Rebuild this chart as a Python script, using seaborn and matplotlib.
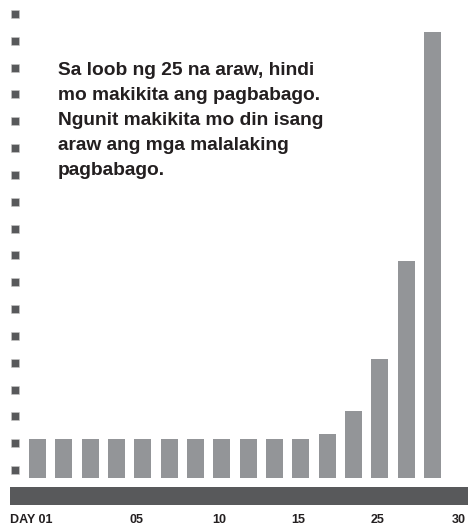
import numpy as np
import pandas as pd
import matplotlib
matplotlib.use("Agg")
import matplotlib.pyplot as plt
from matplotlib.patches import Rectangle
import seaborn as sns

# ---- data ----
bar_ids = [str(i) for i in range(1, 17)]
bar_values = [1.0, 1.0, 1.0, 1.0, 1.0, 1.0, 1.0, 1.0, 1.0, 1.0, 1.0,
              1.12, 1.70, 3.01, 5.49, 11.27]
tick_positions = [-1.044, 3.77, 6.9, 9.9, 12.9, 16.0]
tick_labels = ["DAY 01", "05", "10", "15", "25", "30"]
message_lines = [
    "Sa loob ng 25 na araw, hindi",
    "mo makikita ang pagbabago.",
    "Ngunit makikita mo din isang",
    "araw ang mga malalaking",
    "pagbabago.",
]

BAR_COLOR = "#939598"
DARK = "#58595b"
TEXT = "#231f20"

sns.set_theme(style="white")
plt.rcParams["font.family"] = ["Liberation Sans", "DejaVu Sans"]

W, H = 468, 527
fig = plt.figure(figsize=(W / 100, H / 100), dpi=100)
fig.patch.set_facecolor("white")

bottom_px = 478.3
ax = fig.add_axes([10 / W, (H - bottom_px) / H, 458 / W, bottom_px / H])
df = pd.DataFrame({"day": bar_ids, "value": bar_values})
sns.barplot(data=df, x="day", y="value", color=BAR_COLOR, saturation=1,
            width=0.646, ax=ax, edgecolor="none")
ax.set_xlim(-1.044, 16.35)
ax.set_ylim(0, bottom_px / 39.6)
ax.set_xlabel("")
ax.set_ylabel("")
ax.set_yticks([])
ax.set_xticks(tick_positions)
ax.set_xticklabels(tick_labels, fontsize=9, fontweight="bold", color=TEXT)
ax.get_xticklabels()[0].set_horizontalalignment("left")
ax.tick_params(axis="x", length=0, pad=25.5)
for s in ax.spines.values():
    s.set_visible(False)
ax.set_facecolor("none")

# dark base band
fig.patches.append(Rectangle((10 / W, (H - 505) / H), 458 / W, 18 / H,
                             transform=fig.transFigure, facecolor=DARK,
                             edgecolor="none", zorder=0))

# decorative square bullets on the left
sq = fig.add_axes([0, 0, 30 / W, 1])
n_sq = 18
ys = np.linspace(1 - 14 / H, 1 - 470 / H, n_sq)
sq.scatter(np.full(n_sq, 0.5), ys, marker="s", s=36, color=DARK,
           edgecolors="#c8c8c8", linewidths=0.4)
sq.set_xlim(0, 1)
sq.set_ylim(0, 1)
sq.axis("off")

# message text
for i, line in enumerate(message_lines):
    fig.text(58 / W, 1 - (75 + 25.1 * i) / H, line, fontsize=13.8,
             fontweight="bold", color=TEXT, ha="left", va="baseline")

fig.savefig("out.png", dpi=100, facecolor="white")
